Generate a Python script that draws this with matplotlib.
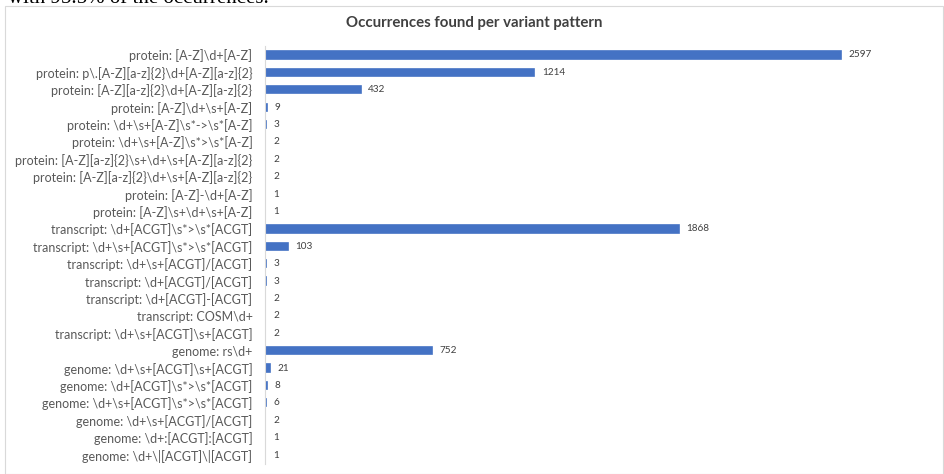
import matplotlib.pyplot as plt
from matplotlib.patches import Rectangle

patterns = [
    r"protein: [A-Z]\d+[A-Z]",
    r"protein: p\.[A-Z][a-z]{2}\d+[A-Z][a-z]{2}",
    r"protein: [A-Z][a-z]{2}\d+[A-Z][a-z]{2}",
    r"protein: [A-Z]\d+\s+[A-Z]",
    r"protein: \d+\s+[A-Z]\s*->\s*[A-Z]",
    r"protein: \d+\s+[A-Z]\s*>\s*[A-Z]",
    r"protein: [A-Z][a-z]{2}\s+\d+\s+[A-Z][a-z]{2}",
    r"protein: [A-Z][a-z]{2}\d+\s+[A-Z][a-z]{2}",
    r"protein: [A-Z]-\d+[A-Z]",
    r"protein: [A-Z]\s+\d+\s+[A-Z]",
    r"transcript: \d+[ACGT]\s*>\s*[ACGT]",
    r"transcript: \d+\s+[ACGT]\s*>\s*[ACGT]",
    r"transcript: \d+\s+[ACGT]/[ACGT]",
    r"transcript: \d+[ACGT]/[ACGT]",
    r"transcript: \d+[ACGT]-[ACGT]",
    r"transcript: COSM\d+",
    r"transcript: \d+\s+[ACGT]\s+[ACGT]",
    r"genome: rs\d+",
    r"genome: \d+\s+[ACGT]\s+[ACGT]",
    r"genome: \d+[ACGT]\s*>\s*[ACGT]",
    r"genome: \d+\s+[ACGT]\s*>\s*[ACGT]",
    r"genome: \d+\s+[ACGT]/[ACGT]",
    r"genome: \d+:[ACGT]:[ACGT]",
    r"genome: \d+\|[ACGT]\|[ACGT]",
]
counts = [2597, 1214, 432, 9, 3, 2, 2, 2, 1, 1,
          1868, 103, 3, 3, 2, 2, 2,
          752, 21, 8, 6, 2, 1, 1]

title = "Occurrences found per variant pattern"
above_text = "with 95.5% of the occurrences."

plt.rcParams['font.family'] = ['Lato', 'DejaVu Sans']

fig = plt.figure(figsize=(9.45, 4.74), dpi=100)
W, H = 945, 474
ax = fig.add_axes([265 / W, 1 - 463.7 / H, (930 - 265) / W, 417.4 / H])

pos = list(range(len(patterns)))
ax.barh(pos, counts, height=0.42, color='#4472C4', edgecolor='#4472C4', linewidth=1.2)
ax.set_ylim(len(patterns) - 0.5, -0.5)
ax.set_xlim(0, 3000)
ax.set_yticks(pos)
ax.set_yticklabels(patterns, fontsize=9.0, color='#595959')
ax.tick_params(axis='y', length=0, pad=9)
ax.set_xticks([])
for s in ['top', 'right', 'bottom']:
    ax.spines[s].set_visible(False)
ax.spines['left'].set_color('#D9D9D9')
ax.spines['left'].set_linewidth(0.8)

# value labels next to the bars
for i, v in enumerate(counts):
    ax.annotate(str(v), (v, i), xytext=(5.5, 0), textcoords='offset points',
                va='center', ha='left', fontsize=7.2, color='#404040')

fig.text(474 / W, 1 - 23 / H, title, ha='center', va='center',
         fontsize=10.8, fontweight='bold', color='#404040')

# frame of the chart object
fig.patches.append(Rectangle((5 / W, 0), 938 / W, 1 - 6 / H, transform=fig.transFigure,
                             fill=False, edgecolor='#D9D9D9', linewidth=0.8))
# document text cut at the top edge
fig.text(8 / W, 1 + 1 / H, above_text, ha='left', va='center', fontsize=15,
         color='black', family=['Liberation Serif', 'DejaVu Serif'])

fig.savefig('out.png', dpi=100)
